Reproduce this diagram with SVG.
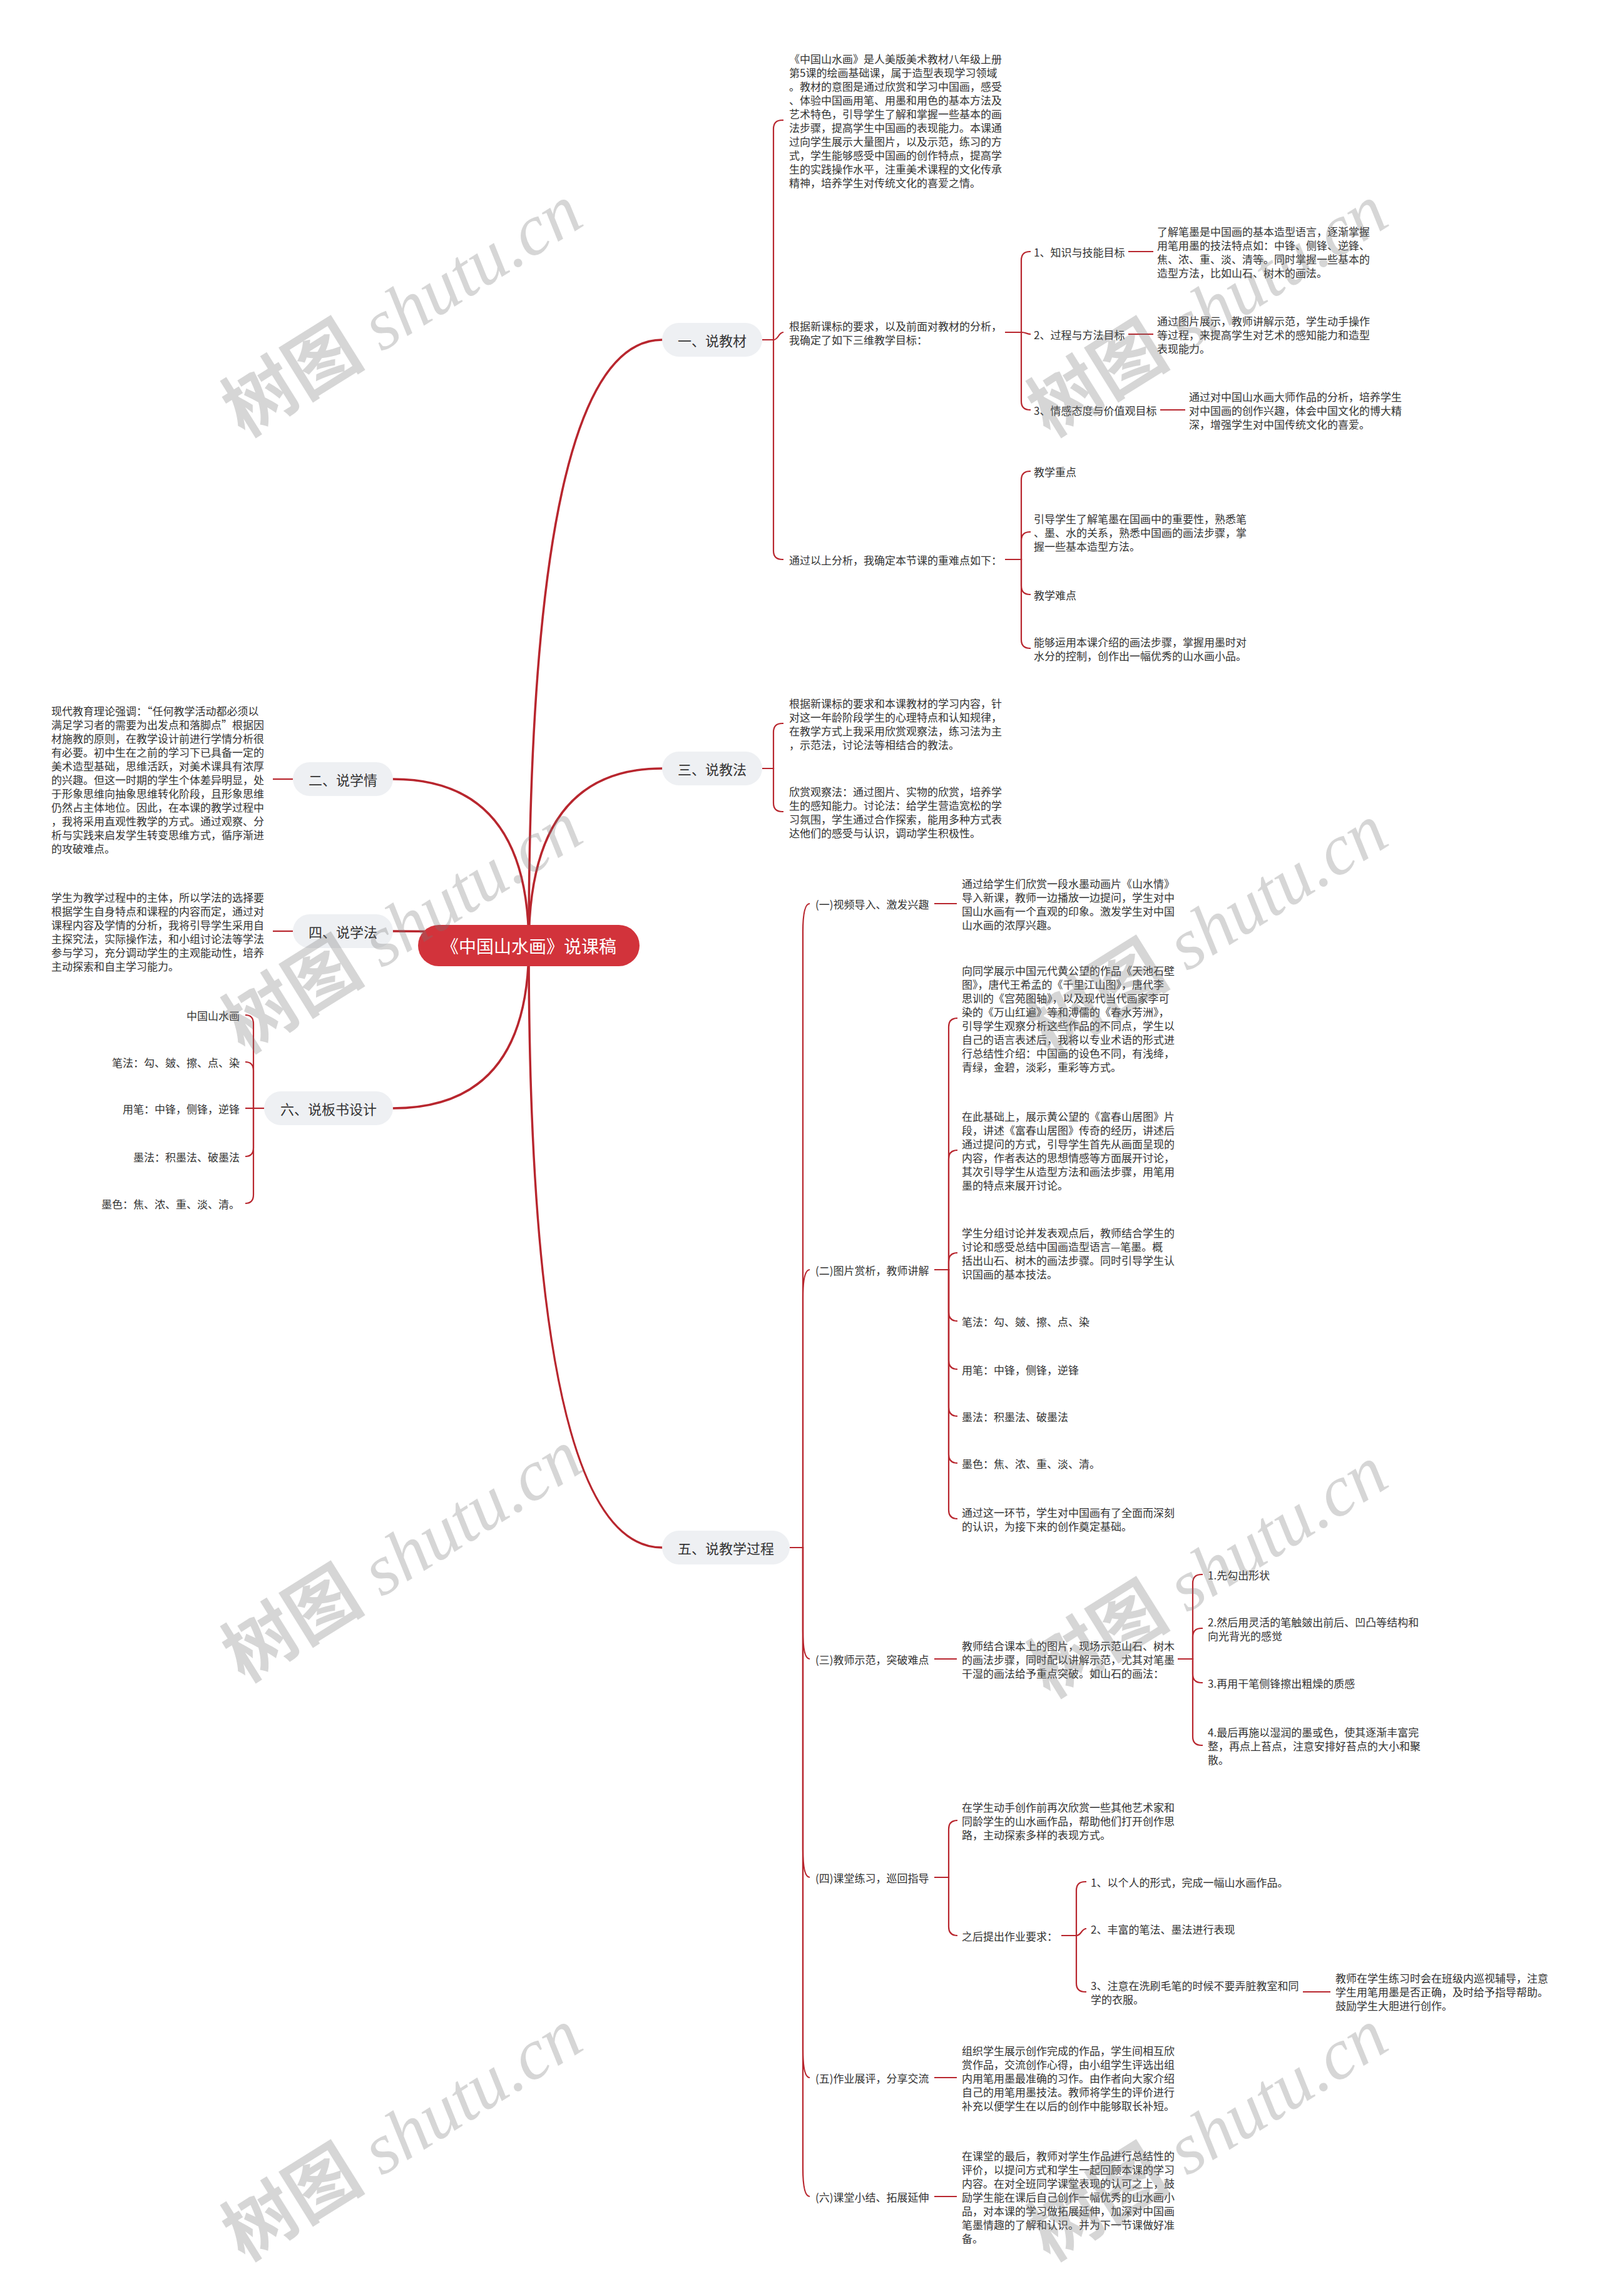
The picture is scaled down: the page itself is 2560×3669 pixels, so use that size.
<svg xmlns="http://www.w3.org/2000/svg" width="2560" height="3669" viewBox="0 0 2560 3669">
<style>
text{font-family:"Noto Sans CJK SC","Noto Sans",sans-serif;fill:#333;dominant-baseline:central}
.t{font-size:17px}
.r{text-anchor:end}
.b{font-size:22px;text-anchor:middle}
.c{font-size:28px;fill:#fff;text-anchor:middle}
.pill{fill:#eef0f3}
.ln{fill:none;stroke:#b8262e;stroke-width:2.2}
.mn{fill:none;stroke:#b8262e;stroke-width:3.5;stroke-linecap:round}
.wm{font-size:115px;fill:#777;fill-opacity:0.3;dominant-baseline:auto}
.wm1{font-family:"Noto Sans CJK SC",sans-serif;font-weight:bold}
.wm2{font-family:"Liberation Serif",serif;font-style:italic}
</style>
<rect width="2560" height="3669" fill="#fff"/>
<g id="connectors">
<path class="mn" d="M845,1511 Q845,543 1058,543"/>
<path class="mn" d="M845,1511 Q845,1228 1058,1228"/>
<path class="mn" d="M845,1511 Q845,2473 1058,2473"/>
<path class="mn" d="M845,1511 Q845,1245 628,1245"/>
<path class="mn" d="M845,1511 Q845,1488 628,1488"/>
<path class="mn" d="M845,1511 Q845,1771 628,1771"/>
<path class="ln" d="M1218,543 H1236 V206 Q1236,192 1250,192 H1252"/>
<path class="ln" d="M1218,543 H1236 C1244,543 1244,531 1252,531"/>
<path class="ln" d="M1218,543 H1236 V880 Q1236,894 1250,894 H1252"/>
<path class="ln" d="M1606,531 H1632 V416 Q1632,402 1646,402 H1647"/>
<path class="ln" d="M1606,531 H1632 C1640,531 1640,534 1647,534"/>
<path class="ln" d="M1606,531 H1632 V641 Q1632,655 1646,655 H1647"/>
<path class="ln" d="M1803,402 H1843"/>
<path class="ln" d="M1803,534 H1843"/>
<path class="ln" d="M1854,655 H1894"/>
<path class="ln" d="M1606,894 H1632 V767 Q1632,753 1646,753 H1647"/>
<path class="ln" d="M1606,894 H1632 V864 Q1632,850 1646,850 H1647"/>
<path class="ln" d="M1606,894 H1632 V936 Q1632,950 1646,950 H1647"/>
<path class="ln" d="M1606,894 H1632 V1022 Q1632,1036 1646,1036 H1647"/>
<path class="ln" d="M1218,1228 H1236 V1170 Q1236,1156 1250,1156 H1252"/>
<path class="ln" d="M1218,1228 H1236 V1283 Q1236,1297 1250,1297 H1252"/>
<path class="ln" d="M1262,2473 H1283 V1489 Q1283,1444 1294,1444"/>
<path class="ln" d="M1262,2473 H1283 V2074 Q1283,2029 1294,2029"/>
<path class="ln" d="M1262,2473 H1283 V2606 Q1283,2651 1294,2651"/>
<path class="ln" d="M1262,2473 H1283 V2955 Q1283,3000 1294,3000"/>
<path class="ln" d="M1262,2473 H1283 V3275 Q1283,3320 1294,3320"/>
<path class="ln" d="M1262,2473 H1283 V3465 Q1283,3510 1294,3510"/>
<path class="ln" d="M1493,1444 H1529"/>
<path class="ln" d="M1493,2029 H1516 V1641 Q1516,1627 1530,1627"/>
<path class="ln" d="M1493,2029 H1516 V1852 Q1516,1838 1530,1838"/>
<path class="ln" d="M1493,2029 H1516 V2016 Q1516,2002 1530,2002"/>
<path class="ln" d="M1493,2029 H1516 V2097 Q1516,2111 1530,2111"/>
<path class="ln" d="M1493,2029 H1516 V2174 Q1516,2188 1530,2188"/>
<path class="ln" d="M1493,2029 H1516 V2249 Q1516,2263 1530,2263"/>
<path class="ln" d="M1493,2029 H1516 V2324 Q1516,2338 1530,2338"/>
<path class="ln" d="M1493,2029 H1516 V2413 Q1516,2427 1530,2427"/>
<path class="ln" d="M1493,2651 H1529"/>
<path class="ln" d="M1882,2651 H1906 V2530 Q1906,2516 1920,2516 H1922"/>
<path class="ln" d="M1882,2651 H1906 V2616 Q1906,2602 1920,2602 H1922"/>
<path class="ln" d="M1882,2651 H1906 V2675 Q1906,2689 1920,2689 H1922"/>
<path class="ln" d="M1882,2651 H1906 V2775 Q1906,2789 1920,2789 H1922"/>
<path class="ln" d="M1493,3000 H1516 V2923 Q1516,2909 1530,2909"/>
<path class="ln" d="M1493,3000 H1516 V3079 Q1516,3093 1530,3093"/>
<path class="ln" d="M1696,3093 H1720 V3021 Q1720,3007 1734,3007 H1736"/>
<path class="ln" d="M1696,3093 H1720 C1728,3093 1728,3082 1736,3082"/>
<path class="ln" d="M1696,3093 H1720 V3169 Q1720,3183 1734,3183 H1736"/>
<path class="ln" d="M2082,3183 H2126"/>
<path class="ln" d="M1493,3320 H1529"/>
<path class="ln" d="M1493,3510 H1529"/>
<path class="ln" d="M468,1245 H436"/>
<path class="ln" d="M468,1488 H436"/>
<path class="ln" d="M422,1771 H405 V1636 Q405,1622 392,1622"/>
<path class="ln" d="M422,1771 H405 V1711 Q405,1697 392,1697"/>
<path class="ln" d="M422,1771 H392"/>
<path class="ln" d="M422,1771 H405 V1834 Q405,1848 392,1848"/>
<path class="ln" d="M422,1771 H405 V1909 Q405,1923 392,1923"/>
</g>

<g id="root">
<rect x="668" y="1478" width="354" height="66" rx="33" fill="#d2333b"/>
<text class="c" x="845" y="1511">《中国山水画》说课稿</text>
</g>

<g id="b1">
<rect class="pill" x="1058" y="516" width="160" height="54" rx="27"/>
<text class="b" x="1138" y="543">一、说教材</text>
</g>
<g id="b1-1"><text class="t">
<tspan x="1261" y="93">《中国山水画》是人美版美术教材八年级上册</tspan>
<tspan x="1261" y="115">第5课的绘画基础课，属于造型表现学习领域</tspan>
<tspan x="1261" y="137">。教材的意图是通过欣赏和学习中国画，感受</tspan>
<tspan x="1261" y="159">、体验中国画用笔、用墨和用色的基本方法及</tspan>
<tspan x="1261" y="181">艺术特色，引导学生了解和掌握一些基本的画</tspan>
<tspan x="1261" y="203">法步骤，提高学生中国画的表现能力。本课通</tspan>
<tspan x="1261" y="225">过向学生展示大量图片，以及示范，练习的方</tspan>
<tspan x="1261" y="247">式，学生能够感受中国画的创作特点，提高学</tspan>
<tspan x="1261" y="269">生的实践操作水平，注重美术课程的文化传承</tspan>
<tspan x="1261" y="291">精神，培养学生对传统文化的喜爱之情。</tspan>
</text></g>
<g id="b1-2"><text class="t">
<tspan x="1261" y="520">根据新课标的要求，以及前面对教材的分析，</tspan>
<tspan x="1261" y="542">我确定了如下三维教学目标：</tspan>
</text></g>
<g id="b1-2-1"><text class="t" x="1652" y="402">1、知识与技能目标</text></g>
<g id="b1-2-1-1"><text class="t">
<tspan x="1849" y="369">了解笔墨是中国画的基本造型语言，逐渐掌握</tspan>
<tspan x="1849" y="391">用笔用墨的技法特点如：中锋、侧锋、逆锋、</tspan>
<tspan x="1849" y="413">焦、浓、重、淡、清等。同时掌握一些基本的</tspan>
<tspan x="1849" y="435">造型方法，比如山石、树木的画法。</tspan>
</text></g>
<g id="b1-2-2"><text class="t" x="1652" y="534">2、过程与方法目标</text></g>
<g id="b1-2-2-1"><text class="t">
<tspan x="1849" y="512">通过图片展示，教师讲解示范，学生动手操作</tspan>
<tspan x="1849" y="534">等过程，来提高学生对艺术的感知能力和造型</tspan>
<tspan x="1849" y="556">表现能力。</tspan>
</text></g>
<g id="b1-2-3"><text class="t" x="1652" y="655">3、情感态度与价值观目标</text></g>
<g id="b1-2-3-1"><text class="t">
<tspan x="1900" y="633">通过对中国山水画大师作品的分析，培养学生</tspan>
<tspan x="1900" y="655">对中国画的创作兴趣，体会中国文化的博大精</tspan>
<tspan x="1900" y="677">深，增强学生对中国传统文化的喜爱。</tspan>
</text></g>
<g id="b1-3"><text class="t" x="1261" y="894">通过以上分析，我确定本节课的重难点如下：</text></g>
<g id="b1-3-1"><text class="t" x="1652" y="753">教学重点</text></g>
<g id="b1-3-2"><text class="t">
<tspan x="1652" y="828">引导学生了解笔墨在国画中的重要性，熟悉笔</tspan>
<tspan x="1652" y="850">、墨、水的关系，熟悉中国画的画法步骤，掌</tspan>
<tspan x="1652" y="872">握一些基本造型方法。</tspan>
</text></g>
<g id="b1-3-3"><text class="t" x="1652" y="950">教学难点</text></g>
<g id="b1-3-4"><text class="t">
<tspan x="1652" y="1025">能够运用本课介绍的画法步骤，掌握用墨时对</tspan>
<tspan x="1652" y="1047">水分的控制，创作出一幅优秀的山水画小品。</tspan>
</text></g>

<g id="b3">
<rect class="pill" x="1058" y="1201" width="160" height="54" rx="27"/>
<text class="b" x="1138" y="1228">三、说教法</text>
</g>
<g id="b3-1"><text class="t">
<tspan x="1261" y="1123">根据新课标的要求和本课教材的学习内容，针</tspan>
<tspan x="1261" y="1145">对这一年龄阶段学生的心理特点和认知规律，</tspan>
<tspan x="1261" y="1167">在教学方式上我采用欣赏观察法，练习法为主</tspan>
<tspan x="1261" y="1189">，示范法，讨论法等相结合的教法。</tspan>
</text></g>
<g id="b3-2"><text class="t">
<tspan x="1261" y="1264">欣赏观察法：通过图片、实物的欣赏，培养学</tspan>
<tspan x="1261" y="1286">生的感知能力。讨论法：给学生营造宽松的学</tspan>
<tspan x="1261" y="1308">习氛围，学生通过合作探索，能用多种方式表</tspan>
<tspan x="1261" y="1330">达他们的感受与认识，调动学生积极性。</tspan>
</text></g>

<g id="b5">
<rect class="pill" x="1058" y="2446" width="204" height="54" rx="27"/>
<text class="b" x="1160" y="2473">五、说教学过程</text>
</g>
<g id="b5-1"><text class="t" x="1303" y="1444">(一)视频导入、激发兴趣</text></g>
<g id="b5-1-1"><text class="t">
<tspan x="1537" y="1411">通过给学生们欣赏一段水墨动画片《山水情》</tspan>
<tspan x="1537" y="1433">导入新课，教师一边播放一边提问，学生对中</tspan>
<tspan x="1537" y="1455">国山水画有一个直观的印象。激发学生对中国</tspan>
<tspan x="1537" y="1477">山水画的浓厚兴趣。</tspan>
</text></g>
<g id="b5-2"><text class="t" x="1303" y="2029">(二)图片赏析，教师讲解</text></g>
<g id="b5-2-1"><text class="t">
<tspan x="1537" y="1550">向同学展示中国元代黄公望的作品《天池石壁</tspan>
<tspan x="1537" y="1572">图》，唐代王希孟的《千里江山图》，唐代李</tspan>
<tspan x="1537" y="1594">思训的《宫苑图轴》，以及现代当代画家李可</tspan>
<tspan x="1537" y="1616">染的《万山红遍》等和溥儒的《春水芳洲》，</tspan>
<tspan x="1537" y="1638">引导学生观察分析这些作品的不同点，学生以</tspan>
<tspan x="1537" y="1660">自己的语言表述后，我将以专业术语的形式进</tspan>
<tspan x="1537" y="1682">行总结性介绍：中国画的设色不同，有浅绛，</tspan>
<tspan x="1537" y="1704">青绿，金碧，淡彩，重彩等方式。</tspan>
</text></g>
<g id="b5-2-2"><text class="t">
<tspan x="1537" y="1783">在此基础上，展示黄公望的《富春山居图》片</tspan>
<tspan x="1537" y="1805">段，讲述《富春山居图》传奇的经历，讲述后</tspan>
<tspan x="1537" y="1827">通过提问的方式，引导学生首先从画面呈现的</tspan>
<tspan x="1537" y="1849">内容，作者表达的思想情感等方面展开讨论，</tspan>
<tspan x="1537" y="1871">其次引导学生从造型方法和画法步骤，用笔用</tspan>
<tspan x="1537" y="1893">墨的特点来展开讨论。</tspan>
</text></g>
<g id="b5-2-3"><text class="t">
<tspan x="1537" y="1969">学生分组讨论并发表观点后，教师结合学生的</tspan>
<tspan x="1537" y="1991">讨论和感受总结中国画造型语言—笔墨。概</tspan>
<tspan x="1537" y="2013">括出山石、树木的画法步骤。同时引导学生认</tspan>
<tspan x="1537" y="2035">识国画的基本技法。</tspan>
</text></g>
<g id="b5-2-4"><text class="t" x="1537" y="2111">笔法：勾、皴、擦、点、染</text></g>
<g id="b5-2-5"><text class="t" x="1537" y="2188">用笔：中锋，侧锋，逆锋</text></g>
<g id="b5-2-6"><text class="t" x="1537" y="2263">墨法：积墨法、破墨法</text></g>
<g id="b5-2-7"><text class="t" x="1537" y="2338">墨色：焦、浓、重、淡、清。</text></g>
<g id="b5-2-8"><text class="t">
<tspan x="1537" y="2416">通过这一环节，学生对中国画有了全面而深刻</tspan>
<tspan x="1537" y="2438">的认识，为接下来的创作奠定基础。</tspan>
</text></g>
<g id="b5-3"><text class="t" x="1303" y="2651">(三)教师示范，突破难点</text></g>
<g id="b5-3-1"><text class="t">
<tspan x="1537" y="2629">教师结合课本上的图片，现场示范山石、树木</tspan>
<tspan x="1537" y="2651">的画法步骤，同时配以讲解示范，尤其对笔墨</tspan>
<tspan x="1537" y="2673">干湿的画法给予重点突破。如山石的画法：</tspan>
</text></g>
<g id="b5-3-1-1"><text class="t" x="1930" y="2516">1.先勾出形状</text></g>
<g id="b5-3-1-2"><text class="t">
<tspan x="1930" y="2591">2.然后用灵活的笔触皴出前后、凹凸等结构和</tspan>
<tspan x="1930" y="2613">向光背光的感觉</tspan>
</text></g>
<g id="b5-3-1-3"><text class="t" x="1930" y="2689">3.再用干笔侧锋擦出粗燥的质感</text></g>
<g id="b5-3-1-4"><text class="t">
<tspan x="1930" y="2767">4.最后再施以湿润的墨或色，使其逐渐丰富完</tspan>
<tspan x="1930" y="2789">整，再点上苔点，注意安排好苔点的大小和聚</tspan>
<tspan x="1930" y="2811">散。</tspan>
</text></g>
<g id="b5-4"><text class="t" x="1303" y="3000">(四)课堂练习，巡回指导</text></g>
<g id="b5-4-1"><text class="t">
<tspan x="1537" y="2887">在学生动手创作前再次欣赏一些其他艺术家和</tspan>
<tspan x="1537" y="2909">同龄学生的山水画作品，帮助他们打开创作思</tspan>
<tspan x="1537" y="2931">路，主动探索多样的表现方式。</tspan>
</text></g>
<g id="b5-4-2"><text class="t" x="1537" y="3093">之后提出作业要求：</text></g>
<g id="b5-4-2-1"><text class="t" x="1743" y="3007">1、以个人的形式，完成一幅山水画作品。</text></g>
<g id="b5-4-2-2"><text class="t" x="1743" y="3082">2、丰富的笔法、墨法进行表现</text></g>
<g id="b5-4-2-3"><text class="t">
<tspan x="1743" y="3172">3、注意在洗刷毛笔的时候不要弄脏教室和同</tspan>
<tspan x="1743" y="3194">学的衣服。</tspan>
</text></g>
<g id="b5-4-2-3-1"><text class="t">
<tspan x="2134" y="3160">教师在学生练习时会在班级内巡视辅导，注意</tspan>
<tspan x="2134" y="3182">学生用笔用墨是否正确，及时给予指导帮助。</tspan>
<tspan x="2134" y="3204">鼓励学生大胆进行创作。</tspan>
</text></g>
<g id="b5-5"><text class="t" x="1303" y="3320">(五)作业展评，分享交流</text></g>
<g id="b5-5-1"><text class="t">
<tspan x="1537" y="3276">组织学生展示创作完成的作品，学生间相互欣</tspan>
<tspan x="1537" y="3298">赏作品，交流创作心得，由小组学生评选出组</tspan>
<tspan x="1537" y="3320">内用笔用墨最准确的习作。由作者向大家介绍</tspan>
<tspan x="1537" y="3342">自己的用笔用墨技法。教师将学生的评价进行</tspan>
<tspan x="1537" y="3364">补充以便学生在以后的创作中能够取长补短。</tspan>
</text></g>
<g id="b5-6"><text class="t" x="1303" y="3510">(六)课堂小结、拓展延伸</text></g>
<g id="b5-6-1"><text class="t">
<tspan x="1537" y="3444">在课堂的最后，教师对学生作品进行总结性的</tspan>
<tspan x="1537" y="3466">评价，以提问方式和学生一起回顾本课的学习</tspan>
<tspan x="1537" y="3488">内容。在对全班同学课堂表现的认可之上，鼓</tspan>
<tspan x="1537" y="3510">励学生能在课后自己创作一幅优秀的山水画小</tspan>
<tspan x="1537" y="3532">品，对本课的学习做拓展延伸，加深对中国画</tspan>
<tspan x="1537" y="3554">笔墨情趣的了解和认识。并为下一节课做好准</tspan>
<tspan x="1537" y="3576">备。</tspan>
</text></g>

<g id="b2">
<rect class="pill" x="468" y="1218" width="160" height="54" rx="27"/>
<text class="b" x="548" y="1245">二、说学情</text>
</g>
<g id="b2-1"><text class="t">
<tspan x="82" y="1135">现代教育理论强调：“任何教学活动都必须以</tspan>
<tspan x="82" y="1157">满足学习者的需要为出发点和落脚点”根据因</tspan>
<tspan x="82" y="1179">材施教的原则，在教学设计前进行学情分析很</tspan>
<tspan x="82" y="1201">有必要。初中生在之前的学习下已具备一定的</tspan>
<tspan x="82" y="1223">美术造型基础，思维活跃，对美术课具有浓厚</tspan>
<tspan x="82" y="1245">的兴趣。但这一时期的学生个体差异明显，处</tspan>
<tspan x="82" y="1267">于形象思维向抽象思维转化阶段，且形象思维</tspan>
<tspan x="82" y="1289">仍然占主体地位。因此，在本课的教学过程中</tspan>
<tspan x="82" y="1311">，我将采用直观性教学的方式。通过观察、分</tspan>
<tspan x="82" y="1333">析与实践来启发学生转变思维方式，循序渐进</tspan>
<tspan x="82" y="1355">的攻破难点。</tspan>
</text></g>

<g id="b4">
<rect class="pill" x="468" y="1461" width="160" height="54" rx="27"/>
<text class="b" x="548" y="1488">四、说学法</text>
</g>
<g id="b4-1"><text class="t">
<tspan x="82" y="1433">学生为教学过程中的主体，所以学法的选择要</tspan>
<tspan x="82" y="1455">根据学生自身特点和课程的内容而定，通过对</tspan>
<tspan x="82" y="1477">课程内容及学情的分析，我将引导学生采用自</tspan>
<tspan x="82" y="1499">主探究法，实际操作法，和小组讨论法等学法</tspan>
<tspan x="82" y="1521">参与学习，充分调动学生的主观能动性，培养</tspan>
<tspan x="82" y="1543">主动探索和自主学习能力。</tspan>
</text></g>

<g id="b6">
<rect class="pill" x="422" y="1744" width="206" height="54" rx="27"/>
<text class="b" x="525" y="1771">六、说板书设计</text>
</g>
<g id="b6-1"><text class="t r" x="383" y="1622">中国山水画</text></g>
<g id="b6-2"><text class="t r" x="383" y="1697">笔法：勾、皴、擦、点、染</text></g>
<g id="b6-3"><text class="t r" x="383" y="1771">用笔：中锋，侧锋，逆锋</text></g>
<g id="b6-4"><text class="t r" x="383" y="1848">墨法：积墨法、破墨法</text></g>
<g id="b6-5"><text class="t r" x="383" y="1923">墨色：焦、浓、重、淡、清。</text></g>

<g id="watermarks">
<text class="wm" transform="translate(390,700) rotate(-32)"><tspan class="wm1">树图</tspan><tspan class="wm2"> shutu.cn</tspan></text>
<text class="wm" transform="translate(1677,700) rotate(-32)"><tspan class="wm1">树图</tspan><tspan class="wm2"> shutu.cn</tspan></text>
<text class="wm" transform="translate(390,1685) rotate(-32)"><tspan class="wm1">树图</tspan><tspan class="wm2"> shutu.cn</tspan></text>
<text class="wm" transform="translate(1677,1690) rotate(-32)"><tspan class="wm1">树图</tspan><tspan class="wm2"> shutu.cn</tspan></text>
<text class="wm" transform="translate(390,2690) rotate(-32)"><tspan class="wm1">树图</tspan><tspan class="wm2"> shutu.cn</tspan></text>
<text class="wm" transform="translate(1677,2715) rotate(-32)"><tspan class="wm1">树图</tspan><tspan class="wm2"> shutu.cn</tspan></text>
<text class="wm" transform="translate(390,3615) rotate(-32)"><tspan class="wm1">树图</tspan><tspan class="wm2"> shutu.cn</tspan></text>
<text class="wm" transform="translate(1677,3615) rotate(-32)"><tspan class="wm1">树图</tspan><tspan class="wm2"> shutu.cn</tspan></text>
</g>
</svg>
